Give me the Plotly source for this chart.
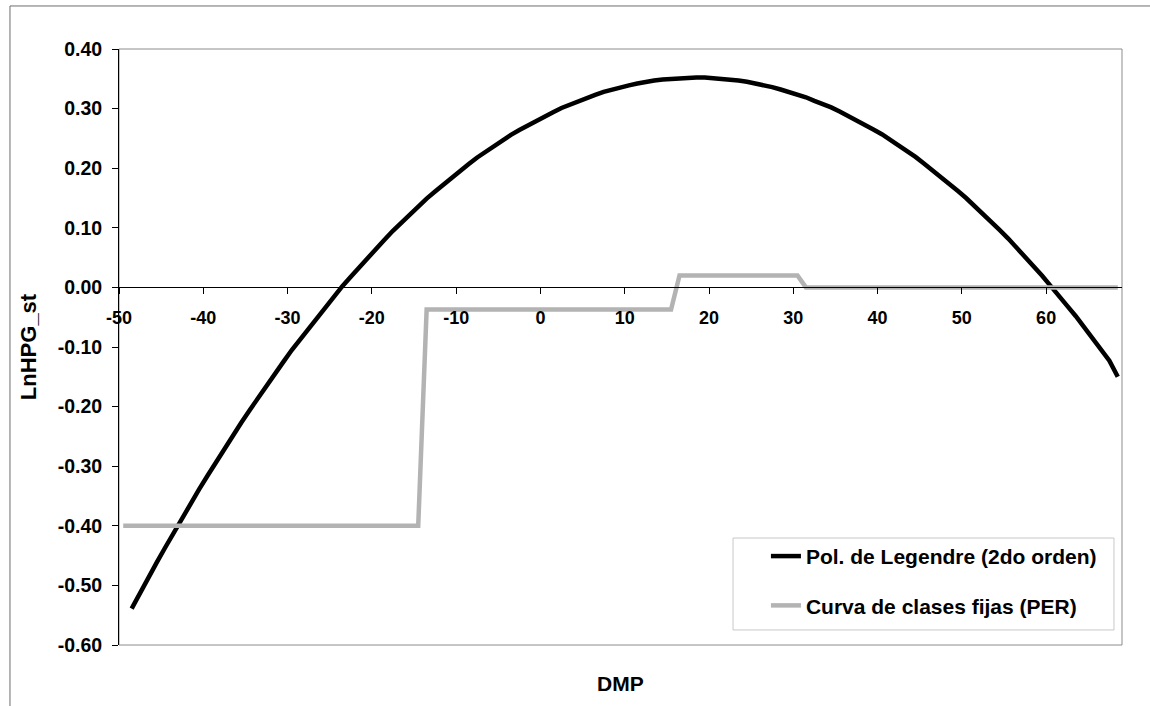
import plotly.graph_objects as go

# Second-order Legendre polynomial fit, one value per DMP class (-48.5 ... 68.5)
legendre_start = -48.5
legendre_vals = [
    -0.539, -0.512, -0.486, -0.461, -0.436, -0.411, -0.386, -0.362, -0.339, -0.316,
    -0.293, -0.270, -0.248, -0.227, -0.206, -0.185, -0.164, -0.144, -0.125, -0.105,
    -0.087, -0.068, -0.050, -0.032, -0.015, 0.002, 0.018, 0.034, 0.050, 0.065,
    0.080, 0.095, 0.109, 0.122, 0.136, 0.149, 0.161, 0.173, 0.185, 0.196,
    0.207, 0.218, 0.228, 0.237, 0.247, 0.256, 0.264, 0.272, 0.280, 0.288,
    0.294, 0.301, 0.307, 0.313, 0.318, 0.323, 0.328, 0.332, 0.336, 0.339,
    0.342, 0.345, 0.347, 0.349, 0.350, 0.351, 0.352, 0.352, 0.352, 0.351,
    0.350, 0.349, 0.347, 0.345, 0.342, 0.340, 0.336, 0.332, 0.328, 0.324,
    0.319, 0.313, 0.308, 0.302, 0.295, 0.288, 0.281, 0.273, 0.265, 0.257,
    0.248, 0.238, 0.229, 0.219, 0.208, 0.197, 0.186, 0.174, 0.162, 0.150,
    0.137, 0.124, 0.110, 0.096, 0.082, 0.067, 0.052, 0.036, 0.020, 0.003,
    -0.013, -0.031, -0.048, -0.066, -0.085, -0.104, -0.123, -0.150,
]
legendre_dmp = [legendre_start + i for i in range(len(legendre_vals))]

# Fixed-class curve (PER): class effects with the DMP points where they change
per_dmp = [-49.5, -14.5, -13.5, 15.5, 16.5, 30.5, 31.5, 68.5]
per_vals = [-0.40, -0.40, -0.037, -0.037, 0.02, 0.02, 0.00, 0.00]

series_names = ["Pol. de Legendre (2do orden)", "Curva de clases fijas (PER)"]

x_tick_vals = [-50, -40, -30, -20, -10, 0, 10, 20, 30, 40, 50, 60]
x_tick_text = ["-50", "-40", "-30", "-20", "-10", "0", "10", "20", "30", "40", "50", "60"]
y_tick_vals = [-0.6, -0.5, -0.4, -0.3, -0.2, -0.1, 0.0, 0.1, 0.2, 0.3, 0.4]
y_tick_text = ["-0.60", "-0.50", "-0.40", "-0.30", "-0.20", "-0.10",
               "0.00", "0.10", "0.20", "0.30", "0.40"]

FONT = "Liberation Sans, Arial, sans-serif"

fig = go.Figure()
fig.add_trace(go.Scatter(
    x=legendre_dmp, y=legendre_vals, mode="lines", name=series_names[0],
    line=dict(color="#000000", width=4.5), legendgroup="a",
))
fig.add_trace(go.Scatter(
    x=per_dmp, y=per_vals, mode="lines", name=series_names[1],
    line=dict(color="#b3b3b3", width=4.5), legendgroup="b",
))

y_min, y_max = -0.6, 0.4

fig.update_layout(
    width=1150, height=706,
    margin=dict(l=119, r=28, t=49, b=61),
    paper_bgcolor="white", plot_bgcolor="white",
    font=dict(family=FONT, color="black"),
    showlegend=True,
    legend=dict(
        x=0.645, y=0.183, xanchor="left", yanchor="top",
        bgcolor="rgba(0,0,0,0)", borderwidth=0,
        font=dict(family=FONT, size=21, color="black", weight="bold"),
        traceorder="grouped", tracegroupgap=19,
    ),
    xaxis=dict(
        range=[-50, 69], tickvals=x_tick_vals, ticktext=x_tick_text,
        anchor="free", position=(0 - y_min) / (y_max - y_min),
        showline=True, linecolor="black", linewidth=1,
        ticks="outside", ticklen=6, tickcolor="black",
        showgrid=False, zeroline=False,
        tickfont=dict(family=FONT, size=18, color="black", weight="bold"),
        ticklabelstandoff=8,
    ),
    yaxis=dict(
        range=[y_min, y_max], tickvals=y_tick_vals, ticktext=y_tick_text,
        showline=True, linecolor="black", linewidth=1,
        ticks="outside", ticklen=6, tickcolor="black",
        showgrid=False, zeroline=False,
        tickfont=dict(family=FONT, size=19.5, color="black", weight="bold"),
        ticklabelstandoff=6,
        title=dict(text="LnHPG_st", standoff=14,
                   font=dict(family=FONT, size=22, color="black", weight="bold")),
    ),
    shapes=[
        # outer chart frame
        dict(type="rect", xref="paper", yref="paper",
             x0=-0.1087, x1=1.2, y0=-0.3, y1=1.0722,
             line=dict(color="#6e6e6e", width=1), layer="below"),
        # plot area frame
        dict(type="rect", xref="paper", yref="paper",
             x0=0, x1=1, y0=0, y1=1,
             line=dict(color="#8c8c8c", width=1), layer="below"),
        # legend box
        dict(type="rect", xref="paper", yref="paper",
             x0=0.6122, x1=0.992, y0=0.0252, y1=0.1795,
             line=dict(color="#c8c8c8", width=1), fillcolor="white", layer="below"),
    ],
    annotations=[
        dict(text="DMP", xref="paper", yref="paper", x=0.5, y=-0.0638,
             xanchor="center", yanchor="middle", showarrow=False,
             font=dict(family=FONT, size=21, color="black", weight="bold")),
    ],
)

fig.write_html("out.html")
